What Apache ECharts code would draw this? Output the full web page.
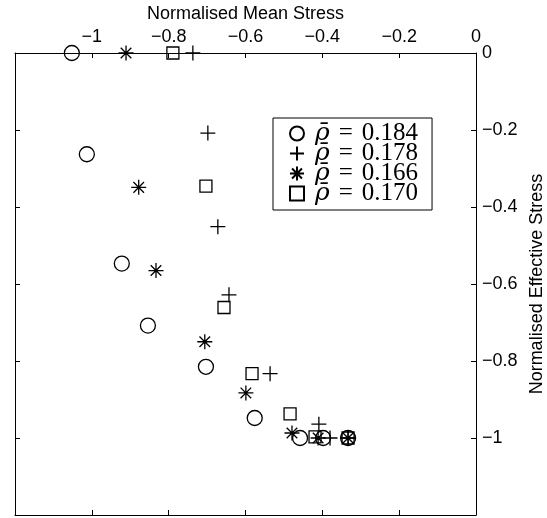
<!DOCTYPE html>
<html>
<head>
<meta charset="utf-8">
<script src="https://cdn.jsdelivr.net/npm/echarts@6/dist/echarts.min.js"></script>
<style>html,body{margin:0;padding:0;background:#fff}#c{width:547px;height:518px}</style>
</head>
<body>
<div id="c"></div>
<script>
// ---- data ----
var seriesNames = ['0.184', '0.178', '0.166', '0.170'];
var circleX = [-1.052, -1.013, -0.922, -0.854, -0.703, -0.576, -0.458, -0.398, -0.333];
var circleY = [0, -0.263, -0.547, -0.708, -0.815, -0.948, -1.0, -1.0, -1.0];
var plusX = [-0.737, -0.698, -0.672, -0.643, -0.536, -0.409, -0.380, -0.333];
var plusY = [0, -0.208, -0.451, -0.628, -0.833, -0.964, -1.0, -1.0];
var starX = [-0.911, -0.878, -0.833, -0.706, -0.599, -0.479, -0.411, -0.333];
var starY = [0, -0.349, -0.565, -0.750, -0.883, -0.987, -1.0, -1.0];
var squareX = [-0.789, -0.703, -0.656, -0.583, -0.484, -0.419, -0.333];
var squareY = [0, -0.346, -0.661, -0.833, -0.9375, -0.997, -1.0];
var xTicks = [-1.2, -1, -0.8, -0.6, -0.4, -0.2, 0];
var yTicks = [-1.2, -1, -0.8, -0.6, -0.4, -0.2, 0];

function pairs(xs, ys) { return xs.map(function (x, i) { return [x, ys[i]]; }); }
function fmt(v) {
  var r = Math.round(v * 10) / 10;
  if (Math.abs(r - xTicks[0]) < 1e-9) return '';
  if (r === 0) return '0';
  return (r < 0 ? '\u2212' : '') + String(Math.abs(r));
}

var FONT = '"Liberation Sans", Arial, sans-serif';
var SERIF = '"Liberation Serif", "DejaVu Serif", serif';
var SYM_PLUS = 'path://M0,-1L0,1M-1,0L1,0';
var SYM_STAR = 'path://M0,-1L0,1M-1,0L1,0M-0.7071,-0.7071L0.7071,0.7071M-0.7071,0.7071L0.7071,-0.7071';
var SYM_SQUARE = 'path://M-1,-1L1,-1L1,1L-1,1Z';

function axisCommon(showLabel) {
  return {
    type: 'value', min: -1.2, max: 0, interval: 0.2,
    axisLine: { show: true, onZero: false, lineStyle: { color: '#000', width: 1 } },
    axisTick: { show: true, inside: true, length: 5, lineStyle: { color: '#000', width: 1 } },
    splitLine: { show: false },
    axisLabel: { show: showLabel, formatter: fmt, color: '#000', fontSize: 18, fontFamily: FONT }
  };
}

var xTop = axisCommon(true);
xTop.position = 'top';
xTop.name = 'Normalised Mean Stress';
xTop.nameLocation = 'middle';
xTop.nameGap = 30;
xTop.nameTextStyle = { color: '#000', fontSize: 18, fontFamily: FONT };
xTop.axisLabel.margin = 7;
var xBottom = axisCommon(false);
xBottom.position = 'bottom';

var yRight = axisCommon(true);
yRight.position = 'right';
yRight.name = 'Normalised Effective Stress';
yRight.nameLocation = 'middle';
yRight.nameRotate = 90;
yRight.nameGap = 50;
yRight.nameTextStyle = { color: '#000', fontSize: 18, fontFamily: FONT };
yRight.axisLabel.margin = 6;
var yLeft = axisCommon(false);
yLeft.position = 'left';

var mk = function (name, xs, ys, symbol, size) {
  return {
    name: name, type: 'scatter', xAxisIndex: 0, yAxisIndex: 0,
    data: pairs(xs, ys), symbol: symbol, symbolSize: size, symbolKeepAspect: true,
    itemStyle: { color: 'rgba(0,0,0,0)', borderColor: '#000', borderWidth: 1.3, opacity: 1 },
    emphasis: { disabled: true }, silent: true, animation: false
  };
};

var chart = echarts.init(document.getElementById('c'), null, { renderer: 'canvas' });
chart.setOption({
  animation: false,
  backgroundColor: '#fff',
  grid: { left: 15, top: 53, width: 461, height: 462, containLabel: false, outerBoundsMode: 'none' },
  xAxis: [xTop, xBottom],
  yAxis: [yRight, yLeft],
  legend: {
    orient: 'vertical', left: 273, top: 118,
    padding: [3, 14, 4, 16],
    itemGap: -5, itemWidth: 26, itemHeight: 14,
    borderColor: '#000', borderWidth: 1, backgroundColor: '#fff',
    data: seriesNames,
    formatter: function (n) { return '{i|\u03C1\u0304}{e|=}{n|' + n + '}'; },
    textStyle: {
      color: '#000', fontSize: 25, lineHeight: 20, fontFamily: SERIF,
      rich: {
        i: { fontStyle: 'italic', fontSize: 25, lineHeight: 20, fontFamily: '"DejaVu Serif", serif' },
        e: { fontSize: 25, lineHeight: 20, fontFamily: SERIF, padding: [0, 9, 0, 9] },
        n: { fontSize: 25, lineHeight: 20, fontFamily: SERIF }
      }
    },
    selectedMode: false
  },
  series: [
    mk(seriesNames[0], circleX, circleY, 'circle', 15),
    mk(seriesNames[1], plusX, plusY, SYM_PLUS, 15),
    mk(seriesNames[2], starX, starY, SYM_STAR, 15),
    mk(seriesNames[3], squareX, squareY, SYM_SQUARE, 12)
  ]
});
</script>
</body>
</html>
